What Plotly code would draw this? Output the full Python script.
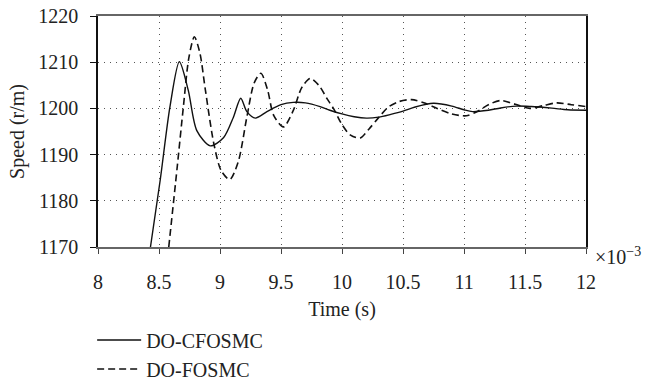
import plotly.graph_objects as go

# Time axis values (x 10^-3 s)
t_cfosmc = [8.43, 8.51, 8.59, 8.667, 8.74, 8.81, 8.92, 9.03, 9.11, 9.17, 9.22, 9.29, 9.385,
            9.5, 9.6, 9.7, 9.82, 9.9, 10.0, 10.1, 10.2, 10.3, 10.4, 10.5, 10.6, 10.75,
            10.9, 11.0, 11.07, 11.2, 11.3, 11.43, 11.55, 11.72, 11.85, 12.0]
s_cfosmc = [1170, 1184.5, 1200.4, 1210.1, 1203.9, 1195.2, 1191.9, 1193.7, 1198.1, 1202.2, 1199.3, 1197.9, 1199.3,
            1200.8, 1201.3, 1201.2, 1200.4, 1199.6, 1198.8, 1198.2, 1197.9, 1198.1, 1198.7, 1199.4, 1200.3, 1201.1,
            1200.5, 1199.7, 1199.3, 1199.6, 1200.1, 1200.5, 1200.4, 1200.05, 1199.7, 1199.6]

t_fosmc = [8.58, 8.648, 8.70, 8.745, 8.79, 8.835, 8.88, 8.95, 9.01, 9.08, 9.15, 9.22, 9.28, 9.335,
           9.39, 9.44, 9.52, 9.60, 9.67, 9.74, 9.81, 9.88, 9.93, 10.0, 10.07, 10.15, 10.22, 10.30,
           10.38, 10.47, 10.57, 10.67, 10.78, 10.9, 11.02, 11.12, 11.2, 11.3, 11.42, 11.54, 11.65,
           11.76, 11.88, 12.0]
s_fosmc = [1170, 1187.0, 1200.4, 1211.0, 1215.5, 1212.0, 1204.0, 1192.3, 1186.5, 1184.6, 1188.5, 1198.1, 1205.5, 1207.6,
           1204.0, 1198.5, 1196.0, 1199.5, 1204.5, 1206.5, 1205.0, 1202.0, 1200.0, 1196.5, 1194.2, 1193.6, 1195.5, 1198.0,
           1200.3, 1201.5, 1201.9, 1201.2, 1200.0, 1198.8, 1198.4, 1199.5, 1200.8, 1201.7, 1200.9, 1200.0, 1200.6,
           1201.2, 1200.8, 1200.4]

x_ticks = [8, 8.5, 9, 9.5, 10, 10.5, 11, 11.5, 12]
x_tick_labels = ["8", "8.5", "9", "9.5", "10", "10.5", "11", "11.5", "12"]
y_ticks = [1170, 1180, 1190, 1200, 1210, 1220]

FONT = "Liberation Serif, Times New Roman, serif"
FS = 20

fig = go.Figure()
fig.add_trace(go.Scatter(x=t_cfosmc, y=s_cfosmc, mode="lines", name="DO-CFOSMC",
                         line=dict(color="#111111", width=1.4, shape="spline", smoothing=0.8)))
fig.add_trace(go.Scatter(x=t_fosmc, y=s_fosmc, mode="lines", name="DO-FOSMC",
                         line=dict(color="#111111", width=1.6, dash="7px,4px", shape="spline", smoothing=0.8)))

fig.update_layout(
    width=654, height=381,
    margin=dict(l=98, r=68, t=16, b=134, autoexpand=False),
    paper_bgcolor="white", plot_bgcolor="white",
    font=dict(family=FONT, size=FS, color="#222222"),
    showlegend=True,
    legend=dict(x=-0.012, y=-0.318, xanchor="left", yanchor="top",
                font=dict(family=FONT, size=FS, color="#222222"),
                bgcolor="rgba(0,0,0,0)", tracegroupgap=0, itemwidth=44),
    xaxis=dict(range=[8, 12], tickvals=x_ticks, ticktext=x_tick_labels,
               showline=True, linecolor="#666666", linewidth=1.5, mirror=True,
               ticks="outside", ticklen=5, tickcolor="#444444", tickwidth=1,
               ticklabelstandoff=11, automargin=False,
               showgrid=True, gridcolor="#555555", gridwidth=1, griddash="1px,5px",
               zeroline=False,
               title=dict(text="Time (s)", standoff=10, font=dict(family=FONT, size=FS))),
    yaxis=dict(range=[1170, 1220], tickvals=y_ticks,
               showline=True, linecolor="#111111", linewidth=1.5, mirror=True,
               ticks="outside", ticklen=6, tickcolor="#111111", tickwidth=1,
               ticklabelstandoff=8, automargin=False,
               showgrid=True, gridcolor="#555555", gridwidth=1, griddash="1px,5px",
               zeroline=False,
               title=dict(text="Speed (r/m)", standoff=8, font=dict(family=FONT, size=FS))),
    annotations=[dict(text="×10<sup>−3</sup>", xref="paper", yref="paper", x=1.0, y=0.0,
                      xanchor="left", yanchor="middle", xshift=7, yshift=-9, showarrow=False,
                      font=dict(family=FONT, size=FS, color="#222222"))],
)

fig.write_html("out.html")
